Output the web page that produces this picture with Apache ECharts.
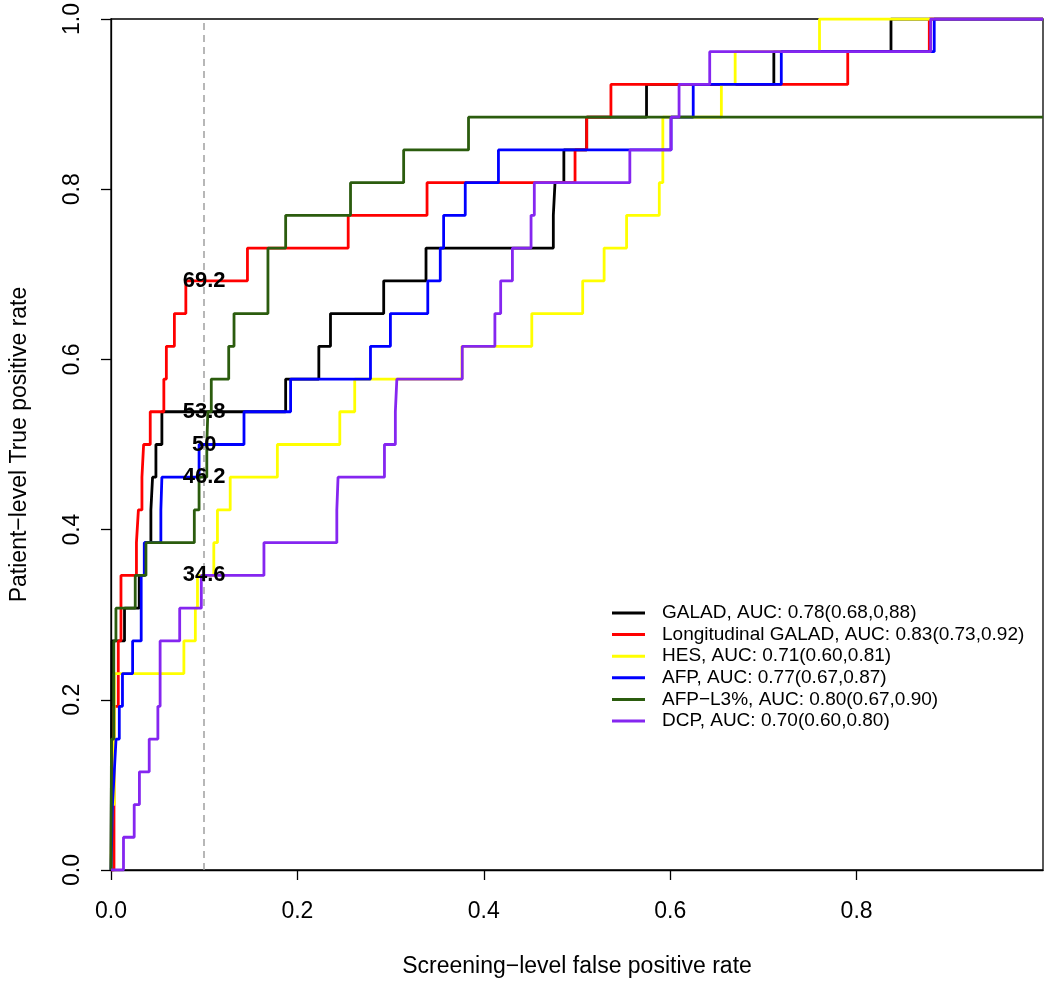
<!DOCTYPE html>
<html>
<head>
<meta charset="utf-8">
<script src="https://cdn.jsdelivr.net/npm/echarts@6/dist/echarts.min.js"></script>
<style>
  html, body { margin: 0; padding: 0; background: #fff; }
  #chart { width: 1050px; height: 983px; }
</style>
</head>
<body>
<div id="chart"></div>
<script>
// ---------------- data ----------------
const nCases = 26;               // number of positive cases (TPR steps are 1/26)
const refFpr = 0.1;              // reference false positive rate (dashed line)

const legendNames = [
  'GALAD, AUC: 0.78(0.68,0,88)',
  'Longitudinal GALAD, AUC: 0.83(0.73,0.92)',
  'HES, AUC: 0.71(0.60,0.81)',
  'AFP, AUC: 0.77(0.67,0.87)',
  'AFP\u2212L3%, AUC: 0.80(0.67,0.90)',
  'DCP, AUC: 0.70(0.60,0.80)'
];
const seriesColors = ['#000000', '#FF0000', '#FFFF00', '#0000FF', '#2B5C0E', '#8526F0'];

// false positive rate at which each curve rises, and the number of true positives reached there
const galadFpr = [0, 0.0011, 0.0145, 0.0303, 0.0364, 0.0428, 0.0446, 0.0482, 0.0546, 0.1874, 0.2230, 0.2355, 0.2926, 0.3380, 0.4746, 0.4764, 0.4859, 0.5104, 0.5746, 0.7112, 0.8369, 1];
const galadTp  = [0, 7, 8, 9, 10, 11, 12, 13, 14, 15, 16, 17, 18, 19, 20, 21, 22, 23, 24, 25, 26, 26];

const longFpr = [0, 0.0032, 0.0078, 0.0107, 0.0273, 0.0294, 0.0332, 0.0350, 0.0421, 0.0567, 0.0594, 0.0680, 0.0803, 0.1464, 0.2545, 0.3391, 0.4979, 0.5104, 0.5364, 0.7905, 0.8780, 1];
const longTp  = [0, 5, 7, 9, 10, 11, 12, 13, 14, 15, 16, 17, 18, 19, 20, 21, 22, 23, 24, 25, 26, 26];

const hesFpr = [0, 0.0011, 0.0035, 0.0782, 0.0905, 0.0928, 0.1103, 0.1142, 0.1279, 0.1785, 0.2455, 0.2615, 0.3766, 0.4515, 0.5061, 0.5291, 0.5532, 0.5883, 0.5921, 0.6549, 0.6697, 0.7602, 1];
const hesTp  = [0, 2, 6, 7, 8, 9, 10, 11, 12, 13, 14, 15, 16, 17, 18, 19, 20, 21, 23, 24, 25, 26, 26];

const afpFpr = [0, 0.0016, 0.0035, 0.0054, 0.0089, 0.0123, 0.0232, 0.0324, 0.0357, 0.0535, 0.0546, 0.0945, 0.1427, 0.1927, 0.2784, 0.2998, 0.3399, 0.3533, 0.3569, 0.3801, 0.4157, 0.6009, 0.6247, 0.7192, 0.8833, 1];
const afpTp  = [0, 2, 3, 4, 5, 6, 7, 9, 10, 11, 12, 13, 14, 15, 16, 17, 18, 19, 20, 21, 22, 23, 24, 25, 26, 26];

const l3Fpr = [0, 0.0005, 0.0030, 0.0053, 0.0260, 0.0375, 0.0894, 0.0945, 0.1028, 0.1039, 0.1076, 0.1263, 0.1320, 0.1684, 0.1874, 0.2570, 0.3140, 0.3836, 1];
const l3Tp  = [0, 4, 7, 8, 9, 10, 11, 12, 13, 14, 15, 16, 17, 19, 20, 21, 22, 23, 23];

const dcpFpr = [0, 0.0134, 0.0249, 0.0305, 0.0410, 0.0503, 0.0527, 0.0737, 0.0969, 0.1641, 0.2423, 0.2436, 0.2934, 0.3051, 0.3067, 0.3769, 0.4119, 0.4181, 0.4307, 0.4507, 0.4542, 0.5567, 0.6009, 0.6095, 0.6424, 0.8795, 1];
const dcpTp  = [0, 1, 2, 3, 4, 5, 7, 8, 9, 10, 11, 12, 13, 14, 15, 16, 17, 18, 19, 20, 21, 22, 23, 24, 25, 26, 26];

const xTicks = [0, 0.2, 0.4, 0.6, 0.8];
const yTicks = [0, 0.2, 0.4, 0.6, 0.8, 1.0];

const xTitle = 'Screening\u2212level false positive rate';
const yTitle = 'Patient\u2212level True positive rate';

// ---------------- build ----------------
const curves = [
  [galadFpr, galadTp], [longFpr, longTp], [hesFpr, hesTp],
  [afpFpr, afpTp], [l3Fpr, l3Tp], [dcpFpr, dcpTp]
];
const font = '"Liberation Sans", Arial, Helvetica, sans-serif';

function curveData(fpr, tp) {
  return fpr.map((x, i) => [x, tp[i] / nCases]);
}
function valueAt(fpr, tp, x0) {
  let v = 0;
  for (let i = 0; i < fpr.length; i++) { if (fpr[i] <= x0) v = tp[i] / nCases; }
  return v;
}

const series = curves.map((c, i) => ({
  name: legendNames[i],
  type: 'line',
  step: 'end',
  data: curveData(c[0], c[1]),
  symbol: 'none',
  showSymbol: false,
  clip: true,
  z: 2 + i,
  itemStyle: { color: seriesColors[i] },
  lineStyle: { color: seriesColors[i], width: 2.8 },
  emphasis: { disabled: true }
}));

// dashed reference line
series[0].markLine = {
  silent: true,
  symbol: ['none', 'none'],
  label: { show: false },
  lineStyle: { type: [7, 5], color: '#a0a0a0', width: 1.5 },
  data: [{ xAxis: refFpr }],
  z: 1
};

const axisCommon = {
  type: 'value',
  min: 0, max: 1,
  nameLocation: 'middle',
  nameTextStyle: { fontSize: 23, color: '#000', fontFamily: font },
  axisLine: { show: true, onZero: false, lineStyle: { color: '#000', width: 1.3 } },
  splitLine: { show: false }
};

const option = {
  animation: false,
  backgroundColor: '#fff',
  color: seriesColors,
  grid: { left: 110, right: 7, top: 18, bottom: 113, show: true, borderColor: '#000', borderWidth: 1.3 },
  legend: {
    data: legendNames,
    orient: 'vertical',
    left: 607, top: 598,
    icon: 'rect',
    itemWidth: 33, itemHeight: 3,
    itemGap: 1.6,
    selectedMode: false,
    textStyle: { fontSize: 19, color: '#000', fontFamily: font, lineHeight: 20, padding: [0, 0, 0, 12] }
  },
  xAxis: Object.assign({}, axisCommon, {
    name: xTitle,
    nameGap: 85,
    axisTick: { show: true, length: 10, lineStyle: { color: '#000', width: 1.3 }, customValues: xTicks },
    axisLabel: { fontSize: 23, color: '#000', fontFamily: font, margin: 30, customValues: xTicks,
                 formatter: v => Number(v).toFixed(1) }
  }),
  yAxis: Object.assign({}, axisCommon, {
    name: yTitle,
    nameGap: 80,
    axisTick: { show: true, length: 10, lineStyle: { color: '#000', width: 1.3 }, customValues: yTicks },
    axisLabel: { fontSize: 23, color: '#000', fontFamily: font, margin: 27, rotate: 90, customValues: yTicks,
                 formatter: v => Number(v).toFixed(1) }
  }),
  series: series
};

const chart = echarts.init(document.getElementById('chart'), null, { renderer: 'canvas' });
chart.setOption(option);

// value labels at the reference FPR, positioned through the chart's own scales
const seen = {};
const graphics = [];
curves.forEach(c => {
  const v = valueAt(c[0], c[1], refFpr);
  const txt = String(Math.round(v * 1000) / 10);
  if (seen[txt]) return;
  seen[txt] = true;
  const p = chart.convertToPixel({ gridIndex: 0 }, [refFpr, v]);
  graphics.push({
    type: 'text', x: p[0], y: p[1], z: 100,
    style: { text: txt, fill: '#000', font: 'bold 22px ' + font, align: 'center', verticalAlign: 'middle' }
  });
});
chart.setOption({ graphic: graphics });
</script>
</body>
</html>
